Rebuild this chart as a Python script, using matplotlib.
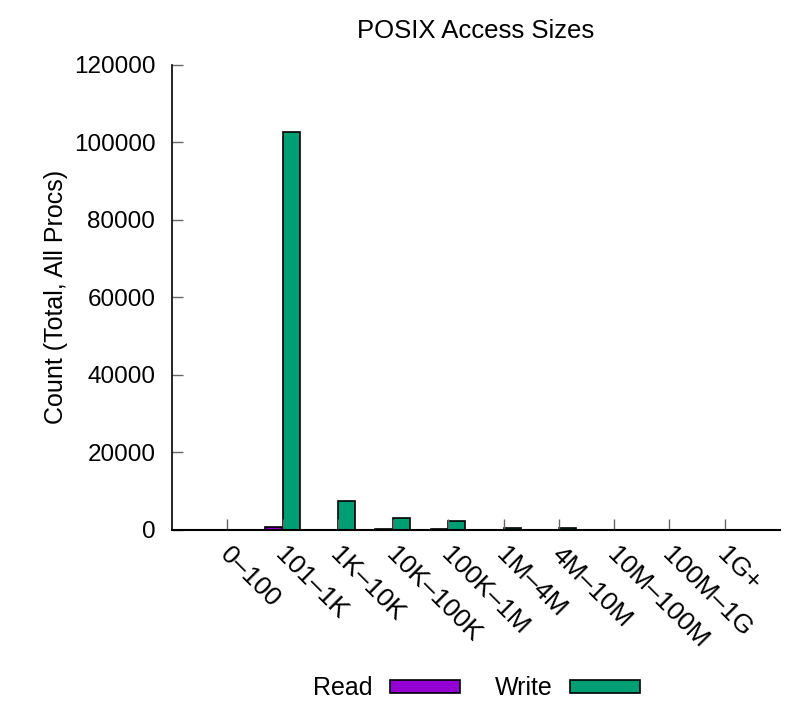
import numpy as np
import matplotlib
matplotlib.use("Agg")
import matplotlib.pyplot as plt
import matplotlib.transforms as mtransforms

plt.rcParams['font.family'] = ['Liberation Sans', 'DejaVu Sans']
plt.rcParams['font.size'] = 17.5

# access size buckets and counts (total, all procs)
buckets = ["0–100", "101–1K", "1K–10K", "10K–100K", "100K–1M",
           "1M–4M", "4M–10M", "10M–100M", "100M–1G", "1G+"]
read_counts = [0, 800, 100, 200, 150, 0, 0, 0, 0, 0]
write_counts = [0, 102500, 7500, 3200, 2250, 550, 500, 0, 0, 0]

read_color = "#9400d3"
write_color = "#009e73"

fig = plt.figure(figsize=(8.1, 7.2), dpi=100)
ax = fig.add_axes([0.2123, 0.2639, 0.7507, 0.6465])

x = np.arange(len(buckets))
w = 0.31
# read bars sit just left of the tick, write bars just right of it
ax.bar(x - 0.01, read_counts, -w, align="edge", color=read_color,
       edgecolor="black", linewidth=1.2, label="Read")
ax.bar(x, write_counts, w, align="edge", color=write_color,
       edgecolor="black", linewidth=1.2, label="Write")

ax.set_xlim(-1, 10)
ax.set_ylim(0, 120000)
ax.set_yticks(np.arange(0, 120001, 20000))
ax.set_xticks(x)
ax.set_xticklabels(buckets, rotation=-45, ha="left", va="top",
                   rotation_mode="anchor", fontsize=19)

ax.spines["top"].set_visible(False)
ax.spines["right"].set_visible(False)
ax.spines["left"].set_linewidth(1.2)
ax.spines["bottom"].set_linewidth(1.5)
ax.tick_params(axis="y", direction="in", length=8, width=1, color="#666666", pad=12)
ax.tick_params(axis="x", direction="in", length=8, width=1, color="#666666", pad=9)

# nudge rotated labels a little to the right, like the original
offset = mtransforms.ScaledTranslation(5 / 100, 0, fig.dpi_scale_trans)
for lbl in ax.get_xticklabels():
    lbl.set_transform(lbl.get_transform() + offset)

ax.set_title("POSIX Access Sizes", fontsize=18.5, pad=19)
ax.set_ylabel("Count (Total, All Procs)", fontsize=18)
ax.yaxis.set_label_coords(-0.171, 0.5)

fig.legend(loc="center", bbox_to_anchor=(0.588, 0.044), ncol=2, frameon=False,
           markerfirst=False, handlelength=2.8, handleheight=0.45,
           handletextpad=0.7, columnspacing=1.4, fontsize=18)

fig.savefig("out.png", dpi=100)
